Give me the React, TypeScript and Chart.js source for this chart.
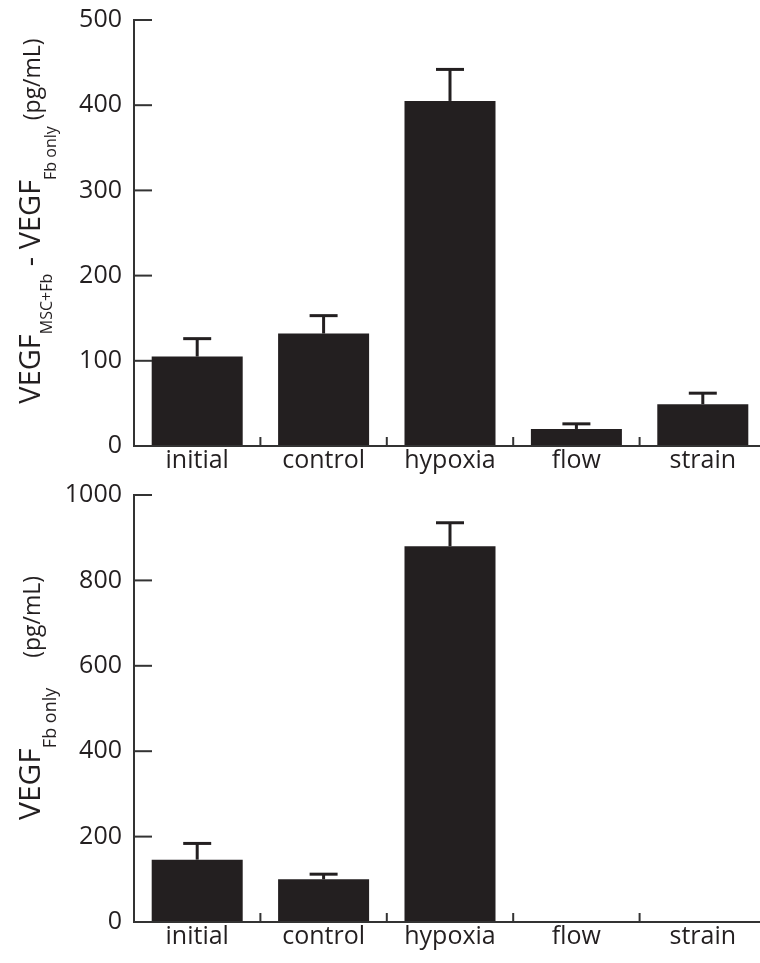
import React, { useEffect, useRef } from 'react';
import { Chart, registerables } from 'chart.js';

Chart.register(...registerables);

// ---- data ----
const categories = ['initial', 'control', 'hypoxia', 'flow', 'strain'];

const diffMeans: (number | null)[] = [105, 132, 405, 20, 49];
const diffErrors: (number | null)[] = [21, 21, 37, 6, 13];
const diffTicks = [0, 100, 200, 300, 400, 500];

const fbMeans: (number | null)[] = [146, 100, 880, null, null];
const fbErrors: (number | null)[] = [38, 12, 55, null, null];
const fbTicks = [0, 200, 400, 600, 800, 1000];

type Seg = { text: string; size: number; shift: number };

const diffTitle: Seg[] = [
  { text: 'VEGF', size: 29, shift: 0 },
  { text: 'MSC+Fb', size: 16, shift: 12 },
  { text: ' - ', size: 29, shift: 0 },
  { text: 'VEGF', size: 29, shift: 0 },
  { text: 'Fb only', size: 16, shift: 16 },
  { text: ' (pg/mL)', size: 23, shift: 0 },
];

const fbTitle: Seg[] = [
  { text: 'VEGF', size: 30, shift: 0 },
  { text: 'Fb only', size: 18, shift: 16 },
  { text: '     (pg/mL)', size: 23, shift: 0 },
];

const INK = '#231f20';
const AXIS = '#333333';
const FONT = '"Open Sans", "Noto Sans", sans-serif';

type PanelProps = {
  values: (number | null)[];
  errors: (number | null)[];
  ticks: number[];
  title: Seg[];
  width: number;
  height: number;
  padTop: number;
  xAxisHeight: number;
  titleCenterY: number;
  titleBaselineX: number;
};

function Panel(p: PanelProps) {
  const ref = useRef<HTMLCanvasElement | null>(null);

  useEffect(() => {
    if (!ref.current) return;

    const decor = {
      id: 'decor',
      afterDatasetsDraw(chart: any) {
        const ctx: CanvasRenderingContext2D = chart.ctx;
        const { left, right, top, bottom } = chart.chartArea;
        const xs = chart.scales.x;
        const ys = chart.scales.y;
        ctx.save();

        // error bars (upper only)
        const meta = chart.getDatasetMeta(0);
        ctx.strokeStyle = INK;
        ctx.lineWidth = 3;
        ctx.lineCap = 'butt';
        meta.data.forEach((el: any, i: number) => {
          const v = p.values[i];
          const e = p.errors[i];
          if (v == null || e == null) return;
          const yTop = ys.getPixelForValue(v + e);
          const yBar = ys.getPixelForValue(v);
          ctx.beginPath();
          ctx.moveTo(el.x, yBar);
          ctx.lineTo(el.x, yTop);
          ctx.stroke();
          ctx.beginPath();
          ctx.moveTo(el.x - 14, yTop);
          ctx.lineTo(el.x + 14, yTop);
          ctx.stroke();
        });

        // axes
        ctx.strokeStyle = AXIS;
        ctx.lineWidth = 2;
        ctx.lineCap = 'square';
        ctx.beginPath();
        ctx.moveTo(left, top);
        ctx.lineTo(left, bottom);
        ctx.lineTo(right, bottom);
        ctx.stroke();
        ctx.lineCap = 'butt';
        p.ticks.forEach((t) => {
          const py = ys.getPixelForValue(t);
          ctx.beginPath();
          ctx.moveTo(left, py);
          ctx.lineTo(left + 18, py);
          ctx.stroke();
        });
        for (let i = 0; i < categories.length - 1; i++) {
          const bx = (xs.getPixelForValue(i) + xs.getPixelForValue(i + 1)) / 2;
          ctx.beginPath();
          ctx.moveTo(bx, bottom);
          ctx.lineTo(bx, bottom - 9);
          ctx.stroke();
        }

        // rotated y-axis title with subscripts
        ctx.fillStyle = INK;
        ctx.textBaseline = 'alphabetic';
        ctx.textAlign = 'left';
        let total = 0;
        const widths = p.title.map((s) => {
          ctx.font = `${s.size}px ${FONT}`;
          const w = ctx.measureText(s.text).width;
          total += w;
          return w;
        });
        ctx.translate(p.titleBaselineX, p.titleCenterY);
        ctx.rotate(-Math.PI / 2);
        let x = -total / 2;
        p.title.forEach((s, i) => {
          ctx.font = `${s.size}px ${FONT}`;
          ctx.fillText(s.text, x, s.shift);
          x += widths[i];
        });

        ctx.restore();
      },
    };

    const chart = new Chart(ref.current, {
      type: 'bar',
      data: {
        labels: categories,
        datasets: [
          {
            data: p.values as any,
            backgroundColor: INK,
            borderWidth: 0,
            barPercentage: 0.72,
            categoryPercentage: 1,
          },
        ],
      },
      options: {
        responsive: false,
        animation: false,
        devicePixelRatio: 1,
        layout: { padding: { top: p.padTop, left: 0, right: 0, bottom: 0 } },
        plugins: {
          legend: { display: false },
          tooltip: { enabled: false },
          title: { display: false },
        },
        scales: {
          x: {
            type: 'category',
            grid: { display: false, drawTicks: false },
            border: { display: false },
            ticks: {
              color: INK,
              font: { family: FONT, size: 25 },
              padding: 0,
              maxRotation: 0,
              autoSkip: false,
            },
            afterFit: (s: any) => {
              s.height = p.xAxisHeight;
              s.paddingLeft = 0;
              s.paddingRight = 0;
            },
          },
          y: {
            min: 0,
            max: p.ticks[p.ticks.length - 1],
            grid: { display: false, drawTicks: false },
            border: { display: false },
            ticks: {
              color: INK,
              font: { family: FONT, size: 25 },
              padding: 12,
              callback: (v: any) => String(v),
            },
            afterBuildTicks: (s: any) => {
              s.ticks = p.ticks.map((v) => ({ value: v }));
            },
            afterFit: (s: any) => {
              s.width = 134;
              s.paddingTop = 0;
              s.paddingBottom = 0;
            },
          },
        },
      },
      plugins: [decor],
    });

    return () => chart.destroy();
  }, []);

  return (
    <canvas
      ref={ref}
      width={p.width}
      height={p.height}
      style={{ display: 'block', width: p.width, height: p.height }}
    />
  );
}

export default function App() {
  return (
    <div
      style={{
        position: 'absolute',
        left: 0,
        top: 0,
        width: 760,
        height: 963,
        overflow: 'hidden',
        background: '#ffffff',
      }}
    >
      <Panel
        values={diffMeans}
        errors={diffErrors}
        ticks={diffTicks}
        title={diffTitle}
        width={766}
        height={478}
        padTop={20}
        xAxisHeight={32}
        titleCenterY={221}
        titleBaselineX={40}
      />
      <Panel
        values={fbMeans}
        errors={fbErrors}
        ticks={fbTicks}
        title={fbTitle}
        width={766}
        height={485}
        padTop={17}
        xAxisHeight={41}
        titleCenterY={220}
        titleBaselineX={40}
      />
    </div>
  );
}
